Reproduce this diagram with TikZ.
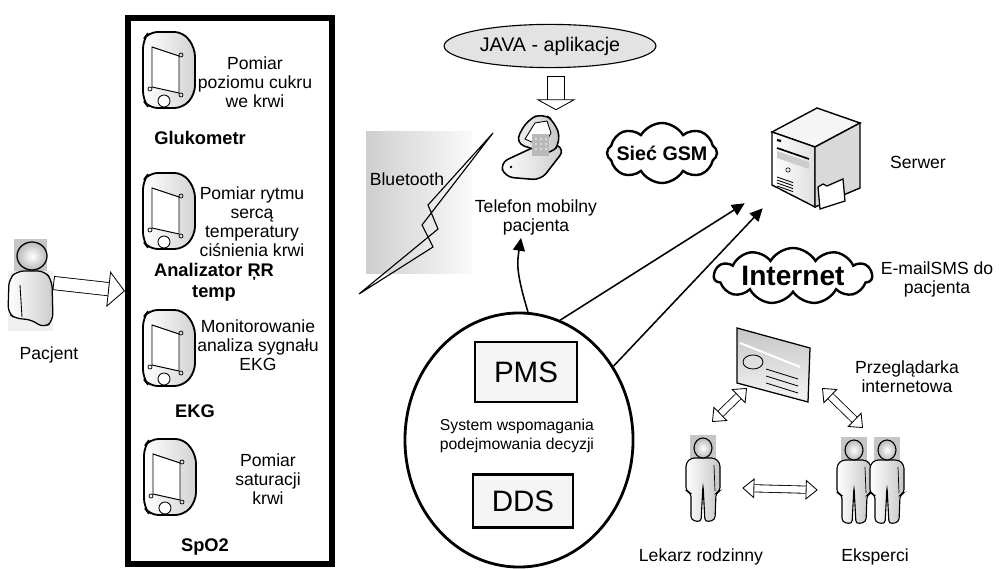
\documentclass[tikz,border=0pt]{standalone}
\usepackage{fontspec}
\setmainfont{Liberation Sans}
\usetikzlibrary{shapes.geometric}
\usetikzlibrary{shapes.symbols}
\usetikzlibrary{positioning}
\usetikzlibrary{arrows.meta}
\tikzset{
    lbl/.style = {align=center, inner sep=0pt, font=\fontsize{12.5}{13.5}\selectfont},
    lblb/.style = {align=center, inner sep=0pt, font=\fontsize{13}{15}\selectfont\bfseries},
    devbox/.style = {rectangle, draw=black, line width=4.3pt, minimum width=5.1cm, minimum height=13.65cm},
    module/.style = {rectangle, draw=black, line width=2pt, fill=gray!8, inner sep=0pt, font=\fontsize{21}{21}\selectfont},
    bubble/.style = {cloud, cloud puffs=8, cloud puff arc=120, draw=black, line width=1.7pt, fill=white},
    spot/.style = {rectangle, inner sep=0pt}, % invisible box round a drawing
    edgen/.style = {-{Triangle[length=0.32cm,width=0.3cm]}, line width=1.1pt},
    hollow/.style = {double=white, double distance=#1, line width=0.6pt},
    hollow2/.style = {hollow=0.16cm, {Triangle[fill=white,length=0.3cm,width=0.5cm]}-{Triangle[fill=white,length=0.3cm,width=0.5cm]}},
    % measuring device
    meter/.pic = {
        \draw[line width=1.3pt, rounded corners=6pt, left color=white, right color=gray!35]
            (-26,-30) -- (-20,-38) -- (14,-38) -- (26,-22) -- (26,24) -- (14,38) -- (-20,38) -- (-26,30) -- cycle;
        \draw[line width=0.7pt, fill=white] (-17,-23) -- (10,-14) -- (10,23) -- (-17,17) -- cycle;
        \draw[line width=0.6pt, fill=white] (-5,31) circle (6);
        \foreach \p in {(12,-15), (-19,19), (12,25)} \draw[line width=0.5pt] \p circle (2);
    },
    % standing person
    person/.pic = {
        \fill[gray!45] (-13,-44) rectangle (13,-20);
        \draw[line width=0.8pt, rounded corners=2.5pt, left color=white, right color=gray!45]
            (-12,-21) -- (12,-21) -- (17,-16) -- (17,12) -- (13,14) -- (12,41) -- (2,43) -- (0,6)
            -- (-2,43) -- (-12,41) -- (-12,14) -- (-17,12) -- (-17,-16) -- cycle;
        \draw[line width=0.5pt] (11,-14) -- (12,12);
        \draw[line width=0.8pt, inner color=white, outer color=gray!55] (0,-31) ellipse [x radius=9, y radius=10];
    },
    % patient, head and shoulders
    bust/.pic = {
        \fill[gray!45] (-16,-46) rectangle (17,-14);
        \fill[gray!12] (-22,-14) rectangle (23,46);
        \draw[line width=0.9pt, rounded corners=5pt, left color=white, right color=gray!40]
            (-22,28) -- (-21,-6) -- (-13,-14) -- (15,-14) -- (22,-4) -- (23,36) -- (14,43) -- (0,34) -- (-14,34) -- cycle;
        \draw[line width=0.6pt] (-10,0) -- (-8,32);
        \draw[line width=0.9pt, inner color=white, outer color=gray!55] (2,-29) ellipse [x radius=15, y radius=14];
    },
    phone/.pic = {
        \draw[line width=1.1pt, rounded corners=6pt, left color=white, right color=gray!40]
            (-39,16) -- (8,-6) -- (26,2) -- (2,33) -- (-34,30) -- cycle;
        \draw[line width=1.1pt, rounded corners=7pt, left color=gray!10, right color=gray!45]
            (-24,-4) -- (-12,-27) -- (4,-34) -- (16,-25) -- (22,-6) -- (12,8) -- cycle;
        \draw[line width=0.6pt, fill=white] (-14,-8) -- (-4,-24) -- (8,-26) -- (12,-14) -- (4,0) -- cycle;
        \fill[gray!55] (-7,-13) rectangle (10,9);
        \foreach \i in {0,1,2} \foreach \j in {0,1,2} \fill[white] (-3+5*\i,-8+5*\j) circle (0.9);
        \fill (-28,20) circle (1.3);
    },
    server/.pic = {
        \draw[line width=1pt, fill=gray!8] (-43,-25) -- (2,-49) -- (45,-34) -- (0,-10) -- cycle;
        \draw[line width=1pt, left color=white, right color=gray!25] (-43,-25) -- (0,-10) -- (0,50) -- (-43,28) -- cycle;
        \draw[line width=1pt, fill=gray!30] (0,-10) -- (45,-34) -- (45,31) -- (0,50) -- cycle;
        \draw[line width=1.6pt] (-38,-17) -- (-34,-16);
        \draw[line width=1.2pt] (-38,-9) -- (-6,2);
        \fill[gray!40] (-38,-6) -- (-6,5) -- (-6,12) -- (-38,1) -- cycle;
        \draw (-27,13) circle (2.2);
        \foreach \k in {0,1,2,3} \draw[line width=0.6pt] (-38,20+3*\k) -- (-22,25.6+3*\k);
        \draw[line width=0.9pt, fill=white] (3,30) -- (8,27) -- (12,29) -- (28,22) -- (30,44) -- (5,52) -- cycle;
    },
    browser/.pic = {
        \draw[line width=0.9pt, top color=gray!45, bottom color=gray!8] (-35,-37) -- (38,-17) -- (36,37) -- (-35,18) -- cycle;
        \draw[white, line width=1.5pt] (-32,-22) -- (28,2);
        \draw[line width=0.6pt, fill=gray!25] (-19,-3) ellipse [x radius=10, y radius=7];
        \foreach \k in {0,1,2} \draw[line width=0.6pt] (-6,4+7*\k) -- (26,14+7*\k);
    },
}

\begin{document}
\begin{tikzpicture}[x=0.025cm, y=-0.025cm]
\useasboundingbox (0,0) rectangle (999,569);
% patient
\pic at (30,285) {bust};
\node[spot, minimum width=1.15cm, minimum height=2.4cm] at (30,283) (pac) {};
\node[lbl] at (49,355) (paclbl) {Pacjent};
% devices
\node[devbox] at (230,291) (box) {};
\pic at (169,70) {meter};
\pic at (169,211) {meter};
\pic at (169,348) {meter};
\pic at (170,477) {meter};
\node[lbl] at (255,82) (t1) {Pomiar\\poziomu cukru\\we krwi};
\node[lbl] at (252,222) (t2) {Pomiar rytmu\\sercą\\temperatury\\ciśnienia krwi};
\node[lbl] at (258,345) (t3) {Monitorowanie\\analiza sygnału\\EKG};
\node[lbl] at (268,479) (t4) {Pomiar\\saturacji\\krwi};
\node[lblb] at (200,138) (g1) {Glukometr};
\node[lblb] at (214,282) (g2) {Analizator ŖR\\temp};
\node[lblb] at (195,411) (g3) {EKG};
\node[lblb] at (205,547) (g4) {SpO2};
\draw[hollow=0.31cm, {Bar[width=0.36cm]}-{Triangle[fill=white,length=0.42cm,width=0.9cm]}] (pac.east) -- (box.west);
% bluetooth link
\fill[left color=gray!38, right color=gray!4] (366,132) rectangle (472,274);
\node[lbl] at (407,179) (bt) {Bluetooth};
\draw[line width=0.8pt] (493,133) -- (428,205) -- (438,229) -- (359,294) -- (433,247) -- (422,225) -- cycle;
% phone
\node[ellipse, draw, line width=0.8pt, fill=gray!22, minimum width=4.85cm, minimum height=1.08cm,
      font=\fontsize{14}{14}\selectfont] at (550,46) (java) {JAVA - aplikacje};
\pic at (539,147) {phone};
\node[spot, minimum width=1.95cm, minimum height=1.675cm] at (539,147) (tel) {};
\node[lbl] at (536,217) (tellbl) {Telefon mobilny\\pacjenta};
\draw[hollow=0.42cm, {Bar[width=0.46cm]}-{Triangle[fill=white,length=0.27cm,width=0.98cm]}]
    ([shift={(6,8)}]java.south) -- ([shift={(17,-3)}]tel.north);
% networks and server
\node[bubble, minimum width=2.75cm, minimum height=1.5cm,
      label={[font=\fontsize{14}{14}\selectfont\bfseries]center:Sieć GSM}] at (662,153) (gsm) {};
\pic at (815,157) {server};
\node[spot, minimum width=2.25cm, minimum height=2.5cm] at (815,157) (srv) {};
\node[lbl] at (918,162) (srvlbl) {Serwer};
\node[bubble, cloud puffs=11, minimum width=3.95cm, minimum height=1.4cm,
      label={[font=\fontsize{20}{20}\selectfont\bfseries]center:Internet}] at (793,276) (net) {};
\node[lbl] at (937,279) (mail) {E-mailSMS do\\pacjenta};
% decision support
\node[ellipse, draw, line width=2pt, minimum width=5.7cm, minimum height=6.35cm] at (519,440) (sys) {};
\node[module, minimum width=2.55cm, minimum height=1.5cm] at (526,372) (pms) {PMS};
\node[module, minimum width=2.5cm, minimum height=1.33cm] at (523,501) (dds) {DDS};
\node[lbl, font=\fontsize{11.2}{13.5}\selectfont] at (517,436) (dss) {System wspomagania\\podejmowania decyzji};
\draw[edgen] (sys.86) .. controls +(-12,-40) and +(-4,25) .. ([shift={(-15,3)}]tellbl.south);
\draw[edgen] (sys.71) -- ([shift={(-25,-4)}]srv.south west);
\draw[edgen] (sys.38) -- ([shift={(-7,1)}]srv.south west);
% doctors
\pic at (772,365) {browser};
\node[spot, minimum width=1.9cm, minimum height=1.9cm] at (772,365) (www) {};
\node[lbl] at (907,377) (wwwlbl) {Przeglądarka\\internetowa};
\pic at (703,479) {person};
\node[spot, minimum width=0.95cm, minimum height=2.15cm] at (703,479) (lek) {};
\pic at (854,481) {person};
\pic at (887,481) {person};
\node[spot, minimum width=1.75cm, minimum height=2.15cm] at (871,481) (eks) {};
\node[lbl] at (701,557) (leklbl) {Lekarz rodzinny};
\node[lbl] at (875,557) (ekslbl) {Eksperci};
\draw[hollow2] ([shift={(-25,23)}]www.center) -- ([shift={(9,-57)}]lek.center);
\draw[hollow2] ([shift={(50,23)}]www.center) -- ([shift={(-8,-53)}]eks.center);
\draw[hollow2] ([shift={(20,9)}]lek.east) -- ([shift={(-18,9)}]eks.west);
\end{tikzpicture}
\end{document}
